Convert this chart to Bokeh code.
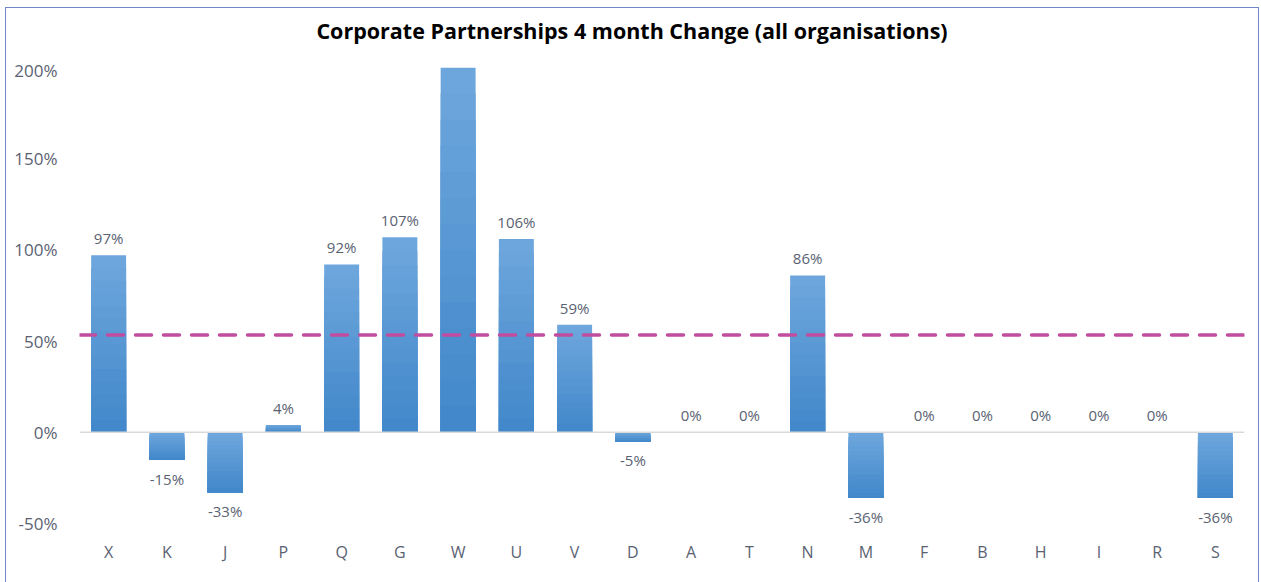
from bokeh.plotting import figure
from bokeh.models import Span, NumeralTickFormatter, ColumnDataSource, Range1d, Div
from bokeh.layouts import column
from bokeh.embed import file_html
from bokeh.resources import INLINE

categories = ["X", "K", "J", "P", "Q", "G", "W", "U", "V", "D",
              "A", "T", "N", "M", "F", "B", "H", "I", "R", "S"]
values = [0.97, -0.15, -0.33, 0.04, 0.92, 1.07, 6.40, 1.06, 0.59, -0.05,
          0.00, 0.00, 0.86, -0.36, 0.00, 0.00, 0.00, 0.00, 0.00, -0.36]
y_ticks = [-0.5, 0.0, 0.5, 1.0, 1.5, 2.0]
title_text = "Corporate Partnerships 4 month Change (all organisations)"

ymin, ymax = -0.5, 2.0
mean_val = sum(values) / len(values)

FONT = "Open Sans"
TICK_COLOR = "#5a6272"
W = 1252
TITLE_H = 50

title_div = Div(text=title_text, width=W, height=TITLE_H, margin=0,
                styles={"font-family": FONT, "font-size": "21.5px",
                        "font-weight": "bold", "text-align": "center",
                        "line-height": "46px", "color": "#000000",
                        "white-space": "nowrap"})

p = figure(x_range=categories, y_range=Range1d(ymin, ymax),
           width=W, height=575 - TITLE_H, output_backend="svg", toolbar_location=None,
           min_border_left=73, min_border_right=14, min_border_top=9,
           min_border_bottom=60, margin=0)

p.outline_line_color = None
p.xgrid.visible = False
p.ygrid.visible = False

# gradient bars: light at top, dark at bottom, drawn in overlapping layers
light = (0x6d, 0xa6, 0xdc)
dark = (0x3f, 0x86, 0xc9)
N = 14
tops = [min(max(v, 0), ymax) for v in values]
bots = [max(min(v, 0), ymin) for v in values]
for i in range(N):
    f = i / N
    c = tuple(int(round(light[k] + (dark[k] - light[k]) * f)) for k in range(3))
    col = "#%02x%02x%02x" % c
    seg_top = [t - (t - b) * f for t, b in zip(tops, bots)]
    p.vbar(x=categories, top=seg_top, bottom=bots, width=0.6,
           fill_color=col, line_color=None)

# zero line
p.add_layout(Span(location=0, dimension="width", line_color="#d9d9d9", line_width=1.5))

# average dashed line
p.add_layout(Span(location=mean_val, dimension="width", line_color="#c04d9f",
                  line_width=3.5, line_dash="16 12", line_cap="round"))

# data labels
lab_x, lab_y, lab_t, lab_off = [], [], [], []
for c, v in zip(categories, values):
    if ymin <= v <= ymax:
        lab_x.append(c)
        lab_y.append(v)
        lab_t.append("%d%%" % round(v * 100))
        lab_off.append(-17 if v >= 0 else 19)
src = ColumnDataSource(dict(x=lab_x, y=lab_y, t=lab_t, off=lab_off))
p.text(x="x", y="y", text="t", y_offset="off", source=src,
       text_align="center", text_baseline="middle",
       text_font={"value": FONT}, text_font_size="15px", text_color=TICK_COLOR)

# axes
p.yaxis.ticker = y_ticks
p.yaxis.formatter = NumeralTickFormatter(format="0%")
for ax in (p.xaxis[0], p.yaxis[0]):
    ax.axis_line_color = None
    ax.major_tick_line_color = None
    ax.minor_tick_line_color = None
    ax.major_label_text_font = FONT
    ax.major_label_text_color = TICK_COLOR
p.yaxis.major_label_text_font_size = "17px"
p.xaxis.major_label_text_font_size = "16px"
p.yaxis.major_label_standoff = 16
p.xaxis.major_label_standoff = 11

layout = column(title_div, p, spacing=0,
                styles={"border": "1px solid #7088c8", "margin-left": "5px",
                        "margin-top": "7px", "background-color": "#ffffff"})

open("out.html", "w").write(file_html(layout, INLINE))
